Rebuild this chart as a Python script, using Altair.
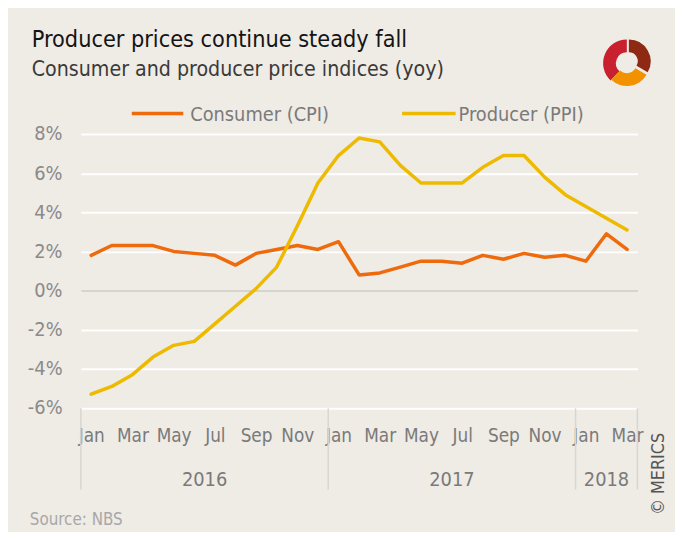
import altair as alt
import pandas as pd

months_idx = list(range(27))
cpi = [1.8, 2.3, 2.3, 2.3, 2.0, 1.9, 1.8, 1.3, 1.9, 2.1, 2.3, 2.1,
       2.5, 0.8, 0.9, 1.2, 1.5, 1.5, 1.4, 1.8, 1.6, 1.9, 1.7, 1.8,
       1.5, 2.9, 2.1]
ppi = [-5.3, -4.9, -4.3, -3.4, -2.8, -2.6, -1.7, -0.8, 0.1, 1.2, 3.3, 5.5,
       6.9, 7.8, 7.6, 6.4, 5.5, 5.5, 5.5, 6.3, 6.9, 6.9, 5.8, 4.9,
       4.3, 3.7, 3.1]
series_names = ["Consumer (CPI)", "Producer (PPI)"]
series_colors = ["#EE6A0C", "#EDBA00"]
year_labels = ["2016", "2017", "2018"]
year_centers = [5.5, 17.5, 25.0]
separators = [-0.5, 11.5, 23.5, 26.5]
y_ticks = [-6, -4, -2, 0, 2, 4, 6, 8]
x_ticks = list(range(0, 27, 2))

FONT = "DejaVu Sans Condensed, Lato, sans-serif"
BG = "#EFEBE5"

df = pd.DataFrame({
    "m": months_idx * 2,
    "v": cpi + ppi,
    "s": [series_names[0]] * 27 + [series_names[1]] * 27,
})
years_df = pd.DataFrame({"x": year_centers, "t": year_labels})
sep_df = pd.DataFrame({"x": separators})
one = pd.DataFrame({"a": [0]})

xscale = alt.Scale(domain=[-0.5, 26.5], nice=False, zero=False)
yscale = alt.Scale(domain=[-6, 8], nice=False)

lines = alt.Chart(df).mark_line(strokeWidth=3.5, strokeCap="round", strokeJoin="round").encode(
    x=alt.X("m:Q", scale=xscale, title=None,
            axis=alt.Axis(values=x_ticks, grid=False, domain=False, ticks=False,
                          labelExpr="['Jan','Mar','May','Jul','Sep','Nov'][(datum.value % 12) / 2]",
                          labelFont=FONT, labelFontSize=19, labelColor="#7a7a7a",
                          labelPadding=19, labelAlign="center")),
    y=alt.Y("v:Q", scale=yscale, title=None,
            axis=alt.Axis(values=y_ticks, domain=False, ticks=False,
                          labelExpr="datum.value + '%'",
                          labelFont=FONT, labelFontSize=20, labelColor="#8a8a8a",
                          labelPadding=19,
                          gridColor={"expr": "datum.value == 0 ? '#D7D3CE' : '#FFFFFF'"},
                          gridWidth=2)),
    color=alt.Color("s:N", scale=alt.Scale(domain=series_names, range=series_colors), legend=None),
)

seps = alt.Chart(sep_df).mark_rule(color="#D9D6D2", strokeWidth=1.5).encode(
    x=alt.X("x:Q", scale=xscale),
    y=alt.value(277), y2=alt.value(359),
)

years = alt.Chart(years_df).mark_text(font=FONT, fontSize=20, color="#7a7a7a", baseline="alphabetic").encode(
    x=alt.X("x:Q", scale=xscale), y=alt.value(355), text="t:N",
)

def txt(s, x, y, size, color, align="left", baseline="alphabetic", angle=0, weight="normal"):
    kw = dict(font=FONT, fontSize=size, color=color, align=align, baseline=baseline, fontWeight=weight)
    if angle:
        kw["angle"] = angle
    return alt.Chart(one).mark_text(text=s, **kw).encode(x=alt.value(x), y=alt.value(y))

title = txt("Producer prices continue steady fall", -49.6, -87.7, 23.5, "#141414")
subtitle = txt("Consumer and producer price indices (yoy)", -49.6, -58.7, 21.4, "#3a3a3a")
leg1_line = alt.Chart(one).mark_rule(color=series_colors[0], strokeWidth=3.5).encode(
    x=alt.value(51.4), x2=alt.value(103.4), y=alt.value(-20.7))
leg1_txt = txt(series_names[0], 110.4, -13.5, 20, "#7a7a7a")
leg2_line = alt.Chart(one).mark_rule(color=series_colors[1], strokeWidth=3.5).encode(
    x=alt.value(324.4), x2=alt.value(378.4), y=alt.value(-20.7))
leg2_txt = txt(series_names[1], 381.4, -13.5, 20, "#7a7a7a")
source = txt("Source:  NBS", -51.6, 395, 17, "#a8a8a8")
merics = txt("© MERICS", 583.4, 343.3, 18, "#555555", align="center", baseline="middle", angle=270)

# logo approximation
lx, ly = 551.4, -71.5
logo1 = alt.Chart(one).mark_arc(theta=3.9, theta2=6.28, radius=11, radius2=24, color="#C8202F").encode(
    x=alt.value(lx), y=alt.value(ly))
logo2 = alt.Chart(one).mark_arc(theta=0.0, theta2=2.1, radius=9, radius2=22, color="#8E2A14").encode(
    x=alt.value(lx + 2), y=alt.value(ly - 2))
logo3 = alt.Chart(one).mark_arc(theta=2.1, theta2=3.9, radius=10, radius2=23, color="#F39200").encode(
    x=alt.value(lx), y=alt.value(ly))

chart = alt.layer(
    seps, lines, years, title, subtitle, leg1_line, leg1_txt, leg2_line, leg2_txt,
    source, merics, logo1, logo2, logo3
).properties(
    width=562, height=276.6,
    autosize=alt.AutoSizeParams(type="none"),
    padding={"left": 73.6, "top": 124.7, "right": 38, "bottom": 123},
    background=BG,
).configure_view(stroke=None)

chart.save("out.html", embed_options={"renderer": "svg", "actions": False})
